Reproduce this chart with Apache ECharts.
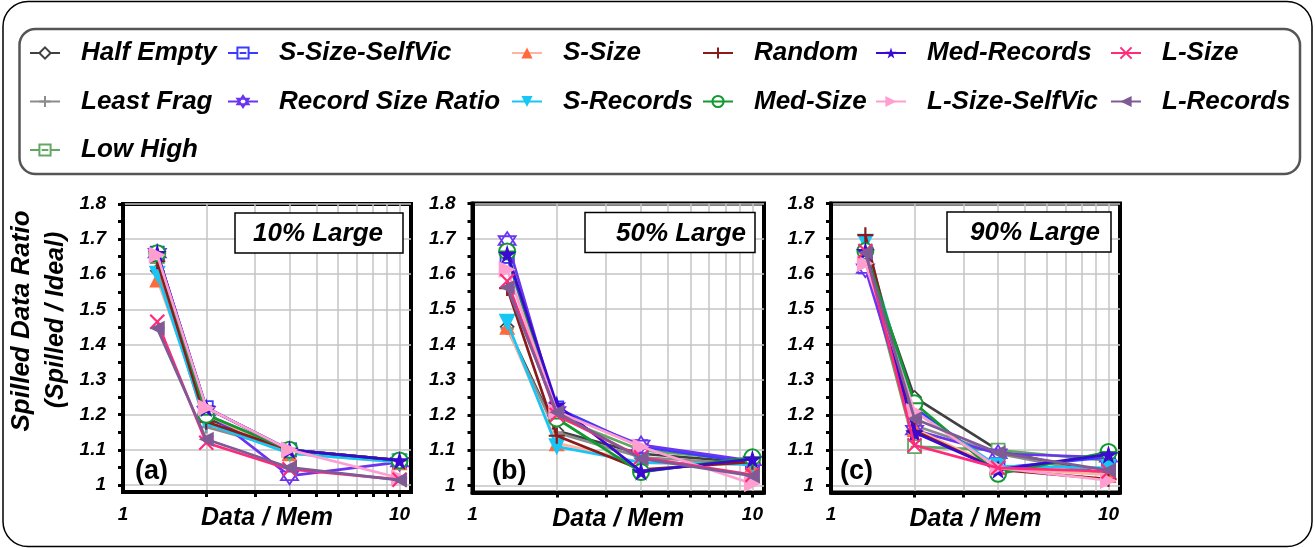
<!DOCTYPE html>
<html><head><meta charset="utf-8">
<script src="https://cdn.jsdelivr.net/npm/echarts@6/dist/echarts.min.js"></script>
<style>html,body{margin:0;padding:0;background:#fff}#c{width:1315px;height:548px}</style>
</head><body><div id="c"></div>
<script>
// ---------- data ----------
const xValues = [1.33, 2, 4, 10];
const xTickLabels = [1, 10];
const xMinorTicks = [2, 3, 4, 5, 6, 7, 8, 9, 10];
const yTickLabels = [1, 1.1, 1.2, 1.3, 1.4, 1.5, 1.6, 1.7, 1.8];
const yMinorTicks = [1.05, 1.15, 1.25, 1.35, 1.45, 1.55, 1.65, 1.75];
const panelTitles = ['10% Large', '50% Large', '90% Large'];
const panelTags = ['(a)', '(b)', '(c)'];
const seriesNames = ['Half Empty', 'Least Frag', 'Low High', 'S-Size-SelfVic', 'Record Size Ratio',
  'S-Size', 'S-Records', 'Random', 'Med-Size', 'Med-Records', 'L-Size-SelfVic', 'L-Size', 'L-Records'];

// 10% Large
const a_halfEmpty = [1.61, 1.19, 1.10, 1.07];
const a_leastFrag = [1.62, 1.165, 1.10, 1.07];
const a_lowHigh = [1.65, 1.20, 1.10, 1.07];
const a_sSizeSelfVic = [1.66, 1.22, 1.10, 1.065];
const a_recordSizeRatio = [1.66, 1.21, 1.026, 1.065];
const a_sSize = [1.585, 1.20, 1.09, 1.065];
const a_sRecords = [1.60, 1.175, 1.09, 1.065];
const a_random = [1.637, 1.18, 1.10, 1.07];
const a_medSize = [1.66, 1.20, 1.10, 1.07];
const a_medRecords = [1.66, 1.22, 1.10, 1.07];
const a_lSizeSelfVic = [1.655, 1.22, 1.10, 1.02];
const a_lSize = [1.465, 1.12, 1.045, 1.015];
const a_lRecords = [1.446, 1.13, 1.05, 1.014];

// 50% Large
const b_halfEmpty = [1.45, 1.155, 1.09, 1.065];
const b_leastFrag = [1.445, 1.15, 1.08, 1.06];
const b_lowHigh = [1.65, 1.195, 1.10, 1.07];
const b_sSizeSelfVic = [1.65, 1.22, 1.11, 1.065];
const b_recordSizeRatio = [1.695, 1.21, 1.115, 1.07];
const b_sSize = [1.45, 1.12, 1.065, 1.06];
const b_sRecords = [1.463, 1.11, 1.065, 1.06];
const b_random = [1.56, 1.141, 1.045, 1.067];
const b_medSize = [1.664, 1.19, 1.038, 1.08];
const b_medRecords = [1.657, 1.229, 1.04, 1.075];
const b_lSizeSelfVic = [1.613, 1.21, 1.11, 1.005];
const b_lSize = [1.58, 1.20, 1.08, 1.03];
const b_lRecords = [1.562, 1.208, 1.076, 1.027];

// 90% Large
const c_halfEmpty = [1.65, 1.25, 1.10, 1.03];
const c_leastFrag = [1.65, 1.17, 1.09, 1.03];
const c_lowHigh = [1.64, 1.11, 1.10, 1.07];
const c_sSizeSelfVic = [1.62, 1.22, 1.05, 1.08];
const c_recordSizeRatio = [1.615, 1.157, 1.09, 1.08];
const c_sSize = [1.68, 1.16, 1.05, 1.03];
const c_sRecords = [1.69, 1.21, 1.055, 1.05];
const c_random = [1.71, 1.155, 1.045, 1.018];
const c_medSize = [1.665, 1.233, 1.033, 1.095];
const c_medRecords = [1.665, 1.15, 1.045, 1.088];
const c_lSizeSelfVic = [1.63, 1.21, 1.05, 1.014];
const c_lSize = [1.665, 1.114, 1.05, 1.04];
const c_lRecords = [1.66, 1.189, 1.093, 1.043];

const panelData = [
  [a_halfEmpty, a_leastFrag, a_lowHigh, a_sSizeSelfVic, a_recordSizeRatio, a_sSize, a_sRecords, a_random, a_medSize, a_medRecords, a_lSizeSelfVic, a_lSize, a_lRecords],
  [b_halfEmpty, b_leastFrag, b_lowHigh, b_sSizeSelfVic, b_recordSizeRatio, b_sSize, b_sRecords, b_random, b_medSize, b_medRecords, b_lSizeSelfVic, b_lSize, b_lRecords],
  [c_halfEmpty, c_leastFrag, c_lowHigh, c_sSizeSelfVic, c_recordSizeRatio, c_sSize, c_sRecords, c_random, c_medSize, c_medRecords, c_lSizeSelfVic, c_lSize, c_lRecords]
];

// ---------- styles ----------
const FONT = '"Liberation Sans", Arial, sans-serif';
const SQ_DASH = 'path://M0,0H10V10H0Z M2,5H8';
const CIRC_DASH = 'path://M0,5A5,5,0,1,0,10,5A5,5,0,1,0,0,5Z M0,5H10';
const PLUS = 'path://M5,0V10M0,5H10';
const CROSS = 'path://M0,0L10,10M10,0L0,10';
const STAR5 = 'path://M50,0L61,35H98L68,57L79,91L50,70L21,91L32,57L2,35H39Z';
const STAR6 = 'path://M50,0L93.3,75H6.7Z M50,100L6.7,25H93.3Z';
const TRI_DOWN = 'path://M0,0H10L5,10Z';
const TRI_RIGHT = 'path://M0,0L10,5L0,10Z';
const TRI_LEFT = 'path://M10,0L0,5L10,10Z';
const styles = [
  {line: '#404040', symbol: 'diamond', fill: '#ffffff', stroke: '#404040', bw: 1.6, size: 13},
  {line: '#8c8c8c', symbol: PLUS, fill: '#8c8c8c', stroke: '#8c8c8c', bw: 2.6, size: 13},
  {line: '#62a862', symbol: SQ_DASH, fill: '#ffffff', stroke: '#62a862', bw: 1.8, size: 13},
  {line: '#3b3bff', symbol: SQ_DASH, fill: '#ffffff', stroke: '#3b3bff', bw: 1.8, size: 13},
  {line: '#6a35f0', symbol: STAR6, fill: '#ffffff', stroke: '#6a35f0', bw: 1.8, size: 17},
  {line: '#ffb3a0', symbol: 'triangle', fill: '#ff6a3d', stroke: '#ff6a3d', bw: 0, size: 16},
  {line: '#18c6f5', symbol: TRI_DOWN, fill: '#18c6f5', stroke: '#18c6f5', bw: 0, size: 17},
  {line: '#8b1a1a', symbol: PLUS, fill: '#8b1a1a', stroke: '#8b1a1a', bw: 2.2, size: 16},
  {line: '#109a30', symbol: CIRC_DASH, fill: '#ffffff', stroke: '#109a30', bw: 2, size: 16},
  {line: '#3a0ad0', symbol: STAR5, fill: '#3a0ad0', stroke: '#3a0ad0', bw: 0, size: 19},
  {line: '#ff9fd0', symbol: TRI_RIGHT, fill: '#ff9fd0', stroke: '#ff9fd0', bw: 0, size: 17},
  {line: '#ff2a7a', symbol: CROSS, fill: '#ff2a7a', stroke: '#ff2a7a', bw: 2.2, size: 14},
  {line: '#7f5a94', symbol: TRI_LEFT, fill: '#7f5a94', stroke: '#7f5a94', bw: 0, size: 15}
];

const grids = [
  {left: 123, top: 204, width: 288, height: 288},
  {left: 472.5, top: 203.5, width: 291.5, height: 289},
  {left: 831, top: 203.5, width: 289, height: 289}
];
const legendCols = [
  {left: 29, names: ['Half Empty', 'Least Frag', 'Low High']},
  {left: 227, names: ['S-Size-SelfVic', 'Record Size Ratio']},
  {left: 511, names: ['S-Size', 'S-Records']},
  {left: 702, names: ['Random', 'Med-Size']},
  {left: 875, names: ['Med-Records', 'L-Size-SelfVic']},
  {left: 1110, names: ['L-Size', 'L-Records']}
];
const boxes = [
  {x: 235, y: 213, w: 168, h: 40, tx: 318},
  {x: 585, y: 212.5, w: 170, h: 40, tx: 681},
  {x: 947, y: 212, w: 164, h: 40, tx: 1035}
];
const tags = [{x: 135}, {x: 492}, {x: 840}];

const nameFont = {fontFamily: FONT, fontWeight: 'bold', fontStyle: 'italic', color: '#000', fontSize: 25};
const legendFont = {fontFamily: FONT, fontWeight: 'bold', fontStyle: 'italic', color: '#000', fontSize: 26};

const xAxes = [], yAxes = [], series = [];
grids.forEach((g, i) => {
  xAxes.push({
    type: 'log', logBase: 10, gridIndex: i, min: 1, max: 11,
    axisLine: {show: true, onZero: false, lineStyle: {color: '#000', width: 4}},
    axisTick: {show: true, customValues: xMinorTicks, length: 5, lineStyle: {color: '#000', width: 3}},
    axisLabel: {customValues: xTickLabels, margin: 13, fontFamily: FONT, fontWeight: 'bold', fontStyle: 'italic', color: '#000', fontSize: 19},
    splitLine: {show: true, lineStyle: {color: '#c4c4c4', width: 1.5}},
    name: 'Data / Mem', nameLocation: 'middle', nameGap: 14, nameMoveOverlap: false,
    nameTextStyle: Object.assign({verticalAlign: 'top'}, nameFont)
  });
  yAxes.push({
    type: 'value', gridIndex: i, min: 0.98, max: 1.8, position: 'left',
    axisLine: {show: true, onZero: false, lineStyle: {color: '#000', width: 4}},
    axisTick: {show: true, customValues: yTickLabels, length: 5, lineStyle: {color: '#000', width: 3}},
    axisLabel: {customValues: yTickLabels, margin: 17, fontFamily: FONT, fontWeight: 'bold', fontStyle: 'italic', color: '#000', fontSize: 19},
    splitLine: {show: true, lineStyle: {color: '#c4c4c4', width: 1.5}}
  });
  yAxes.push({
    type: 'value', gridIndex: i, min: 0.98, max: 1.8, position: 'left', offset: 0,
    axisLine: {show: false},
    axisTick: {show: true, customValues: yMinorTicks, length: 5, lineStyle: {color: '#000', width: 3}},
    axisLabel: {show: false},
    splitLine: {show: false}
  });
  panelData[i].forEach((vals, k) => {
    const s = styles[k];
    series.push({
      name: seriesNames[k], type: 'line', xAxisIndex: i, yAxisIndex: i * 2,
      data: xValues.map((x, j) => [x, vals[j]]),
      symbol: s.symbol, symbolSize: s.size, showAllSymbol: true,
      lineStyle: {color: s.line, width: 2.7},
      itemStyle: {color: s.fill, borderColor: s.stroke, borderWidth: s.bw},
      emphasis: {disabled: true}, z: 2 + k * 0.01
    });
  });
});

const legends = legendCols.map(col => ({
  orient: 'vertical', left: col.left, top: 29, padding: 0,
  itemWidth: 30, itemHeight: 14, itemGap: 0.5,
  data: col.names,
  lineStyle: {width: 2},
  textStyle: Object.assign({lineHeight: 48, padding: [0, 0, 0, 16]}, legendFont)
}));

const graphics = [
  {type: 'rect', shape: {x: 3, y: 1.5, width: 1309, height: 545, r: 25}, style: {fill: 'none', stroke: '#000', lineWidth: 1.5}, silent: true, z: -10},
  {type: 'rect', shape: {x: 19.5, y: 29, width: 1280.5, height: 145, r: 16}, style: {fill: 'none', stroke: '#555', lineWidth: 2.5}, silent: true, z: -10},
  {type: 'text', x: 22, y: 321, rotation: Math.PI / 2, style: {text: 'Spilled Data Ratio', fontSize: 26, align: 'center', verticalAlign: 'middle', fill: '#000', fontFamily: FONT, fontWeight: 'bold', fontStyle: 'italic'}},
  {type: 'text', x: 56, y: 320, rotation: Math.PI / 2, style: {text: '(Spilled / Ideal)', fontSize: 25, align: 'center', verticalAlign: 'middle', fill: '#000', fontFamily: FONT, fontWeight: 'bold', fontStyle: 'italic'}}
];
boxes.forEach((b, i) => {
  graphics.push({type: 'rect', shape: {x: b.x, y: b.y, width: b.w, height: b.h}, style: {fill: '#fff', stroke: '#000', lineWidth: 1.5}, z: 50});
  graphics.push({type: 'text', x: b.tx, y: b.y + b.h / 2 + 1, z: 51, style: {text: panelTitles[i], fontSize: 26, align: 'center', verticalAlign: 'middle', fill: '#000', fontFamily: FONT, fontWeight: 'bold', fontStyle: 'italic'}});
});
tags.forEach((t, i) => {
  graphics.push({type: 'text', x: t.x, y: 472, z: 51, style: {text: panelTags[i], fontSize: 27, align: 'left', verticalAlign: 'middle', fill: '#000', fontFamily: FONT, fontWeight: 'bold'}});
});

const chart = echarts.init(document.getElementById('c'), null, {renderer: 'canvas'});
chart.setOption({
  animation: false,
  backgroundColor: '#fff',
  grid: grids.map(g => Object.assign({show: true, borderColor: '#000', borderWidth: 4, backgroundColor: 'transparent', containLabel: false}, g)),
  xAxis: xAxes,
  yAxis: yAxes,
  legend: legends,
  graphic: graphics,
  series: series
});
</script></body></html>
